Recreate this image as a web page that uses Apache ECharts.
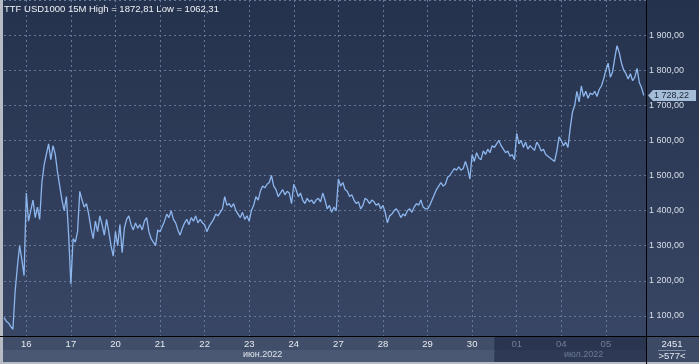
<!DOCTYPE html>
<html><head><meta charset="utf-8">
<script src="https://cdn.jsdelivr.net/npm/echarts@6/dist/echarts.min.js"></script>
<style>
html,body{margin:0;padding:0;}
#c{width:699px;height:364px;background:linear-gradient(to bottom,#25324d 0%,#2f3d5a 50%,#3a4867 100%);}
</style>
</head><body><div id="c"></div>
<script>
// ---- data (15-minute closes) ----
const instrument = 'TTF USD1000 15M';
const highVal = 1872.81;
const lowVal = 1062.31;
const d15 = [1095,1085,1080,1070,1062,1170,1240,1300,1260,1215];
const d16 = [1450,1370,1400,1430,1380,1410,1375,1480,1530,1560,1590,1545,1585,1560,1510,1470,1430,1400,1440,1330];
const d17 = [1190,1320,1310,1340,1455,1430,1410,1420,1390,1350,1320,1370,1340,1385,1360,1330,1375,1340,1300,1270];
const d20 = [1340,1300,1360,1280,1350,1375,1385,1360,1345,1365,1350,1360,1345,1370,1380,1340,1320,1310,1300,1345];
const d21 = [1340,1355,1370,1390,1380,1400,1375,1365,1345,1330,1350,1365,1375,1360,1380,1370,1385,1365,1375,1365];
const d22 = [1360,1340,1355,1365,1375,1390,1385,1395,1405,1440,1415,1420,1410,1420,1400,1390,1380,1395,1375,1385];
const d23 = [1370,1400,1415,1440,1430,1455,1470,1465,1475,1480,1500,1470,1460,1440,1450,1460,1445,1455,1450,1420];
const d24 = [1475,1460,1440,1450,1430,1420,1435,1425,1430,1420,1430,1435,1425,1450,1430,1405,1415,1395,1410,1400];
const d27 = [1490,1470,1480,1460,1455,1440,1445,1430,1420,1425,1405,1415,1435,1430,1420,1430,1425,1415,1420,1405];
const d28 = [1415,1395,1365,1385,1390,1400,1405,1395,1380,1390,1385,1400,1405,1395,1410,1420,1415,1430,1410,1405];
const d29 = [1405,1415,1430,1445,1460,1470,1480,1470,1475,1495,1500,1510,1520,1515,1525,1515,1520,1540,1520,1490];
const d30 = [1560,1540,1565,1550,1545,1570,1560,1575,1565,1585,1580,1590,1600,1585,1575,1565,1570,1555,1560,1545];
const d01 = [1620,1590,1600,1580,1595,1575,1585,1578,1572,1595,1585,1570,1575,1560,1555,1550,1545,1540,1570,1610];
const d04 = [1600,1585,1595,1580,1635,1680,1700,1740,1710,1755,1725,1740,1720,1735,1730,1740,1725,1745,1755,1775];
const d05 = [1800,1820,1780,1795,1835,1870,1850,1820,1800,1790,1775,1790,1770,1780,1805,1765,1750,1728.22];

const dayLabels = ['', '16','17','20','21','22','23','24','27','28','29','30','01','04','05'];
const dayMonth  = [0,0,0,0,0,0,0,0,0,0,0,0,1,1,1];
const dayValues = [d15,d16,d17,d20,d21,d22,d23,d24,d27,d28,d29,d30,d01,d04,d05];
const monthLabels = ['июн.2022','июл.2022'];
const monthLabelIdx = [116, 260];
const yTicks = [1100,1200,1300,1400,1500,1600,1700,1800,1900];
const barsCount = '2451';
const scrollInfo = '>577<';

// ---- build ----
const prices = [].concat(...dayValues);
const dayStartIdx = [];
const dayStartMonth = [];
{ let acc = 0; dayValues.forEach((d,k)=>{ dayStartIdx.push(acc); dayStartMonth.push(dayMonth[k]); acc += d.length; }); }
const cats = prices.map((_,i)=>String(i)).concat([String(prices.length)]);
const lastPrice = prices[prices.length-1];

function fmtNum(v, sep){
  const s = v.toFixed(2).split('.');
  const ip = s[0].replace(/\B(?=(\d{3})+(?!\d))/g, sep);
  return ip + ',' + s[1];
}

const FONT = 'Liberation Sans';
const gridLine = {show:true, lineStyle:{color:'#66789a', type:[2,3], width:1}};
const chart = echarts.init(document.getElementById('c'), null, {renderer:'canvas'});

function dayIdxOf(i){ return dayStartIdx.indexOf(i); }

chart.setOption({
  animation:false,
  backgroundColor:'transparent',
  grid:{left:4, right:53, top:-21.6, bottom:13, containLabel:false},
  xAxis:[
    {type:'category', data:cats, boundaryGap:false, position:'bottom', offset:-15, z:0,
     axisLine:{show:false}, axisTick:{show:false}, axisLabel:{show:false},
     splitLine:Object.assign({interval:(i)=>dayIdxOf(i)>0}, gridLine)},
    {type:'category', data:cats, boundaryGap:false, position:'bottom', offset:-15, z:10,
     axisLine:{show:false}, axisTick:{show:false}, splitLine:{show:false},
     axisLabel:{show:true, margin:3, fontSize:9.5, fontFamily:FONT,
       interval:(i)=>dayIdxOf(i)>0,
       formatter:(v)=>{const k=dayIdxOf(+v); return k>0?dayLabels[k]:'';},
       color:(v)=>{const k=dayIdxOf(+v); return (k>=0 && dayStartMonth[k]===1)?'#6f7d97':'#e6eaf0';}}},
    {type:'category', data:cats, boundaryGap:false, position:'bottom', offset:-15, z:10,
     axisLine:{show:false}, axisTick:{show:false}, splitLine:{show:false},
     axisLabel:{show:true, margin:14, fontSize:9, fontFamily:FONT,
       interval:(i)=>monthLabelIdx.indexOf(i)>=0,
       formatter:(v)=>{const k=monthLabelIdx.indexOf(+v); return k>=0?monthLabels[k]:'';},
       color:(v)=>{const k=monthLabelIdx.indexOf(+v); return k===1?'#6c7a93':'#dfe4ea';}}}
  ],
  yAxis:{type:'value', position:'right', min:1000, max:2000, interval:100, z:0,
    axisLine:{show:false}, axisTick:{show:false},
    axisLabel:{margin:3, fontSize:9, fontFamily:FONT, color:'#d8dee7',
      formatter:(v)=> yTicks.indexOf(v)>=0 ? fmtNum(v,' ') : ''},
    splitLine:gridLine},
  series:[{type:'line', data:prices, xAxisIndex:0, showSymbol:false, symbol:'none',
    lineStyle:{color:'#8db6ee', width:1.3}, z:2, clip:true}]
});

// frame / panels
const gRight = chart.convertToPixel({xAxisIndex:0}, cats.length-1);
const julyStart = chart.convertToPixel({xAxisIndex:0}, (dayStartIdx[11]+dayStartIdx[12])/2);
const yLast = chart.convertToPixel({yAxisIndex:0}, lastPrice);
const axisY = 336;
const els = [
  {type:'rect', z:5, shape:{x:0,y:axisY,width:julyStart,height:14}, style:{fill:'#404e69'}},
  {type:'rect', z:5, shape:{x:0,y:axisY+14,width:julyStart,height:13}, style:{fill:'#4a5874'}},
  {type:'rect', z:5, shape:{x:julyStart,y:axisY,width:gRight-julyStart,height:14}, style:{fill:'#2a3650'}},
  {type:'rect', z:5, shape:{x:julyStart,y:axisY+14,width:gRight-julyStart,height:13}, style:{fill:'#2e3a55'}},
  {type:'rect', z:5, shape:{x:gRight,y:axisY,width:699-gRight,height:28}, style:{fill:'#3c4a66'}},
  {type:'rect', z:30, shape:{x:0,y:0,width:3,height:364}, style:{fill:'#b7bcc4'}},
  {type:'rect', z:30, shape:{x:0,y:362,width:699,height:2}, style:{fill:'#b7bcc4'}},
  {type:'line', z:30, shape:{x1:0,y1:axisY+0.5,x2:699,y2:axisY+0.5}, style:{stroke:'#000',lineWidth:1}},
  {type:'line', z:30, shape:{x1:Math.round(gRight)+0.5,y1:0,x2:Math.round(gRight)+0.5,y2:364}, style:{stroke:'#000',lineWidth:1}},
  {type:'text', z:30, style:{x:672,y:344,text:barsCount,fill:'#e6eaf0',font:'9.5px '+FONT,align:'center',verticalAlign:'middle'}},
  {type:'line', z:30, shape:{x1:658,y1:350.5,x2:686,y2:350.5}, style:{stroke:'#7d8aa2',lineWidth:1}},
  {type:'text', z:30, style:{x:672,y:356,text:scrollInfo,fill:'#e6eaf0',font:'9.5px '+FONT,align:'center',verticalAlign:'middle'}},
  {type:'text', z:30, style:{x:4,y:9,text:instrument+' High = '+fmtNum(highVal,'')+' Low = '+fmtNum(lowVal,''),fill:'#eef1f5',font:'9.5px '+FONT,align:'left',verticalAlign:'middle'}},
  {type:'polygon', z:30, shape:{points:[[gRight+2,yLast],[gRight+7,yLast-5.5],[gRight+7,yLast+5.5]]}, style:{fill:'#a6bdd8'}},
  {type:'rect', z:30, shape:{x:gRight+7,y:yLast-5.5,width:43,height:11}, style:{fill:'#a6bdd8'}},
  {type:'text', z:31, style:{x:gRight+8,y:yLast+0.5,text:fmtNum(lastPrice,' '),fill:'#1b2538',font:'9px '+FONT,align:'left',verticalAlign:'middle'}}
];
chart.setOption({graphic:{elements:els}});
</script>
</body></html>
